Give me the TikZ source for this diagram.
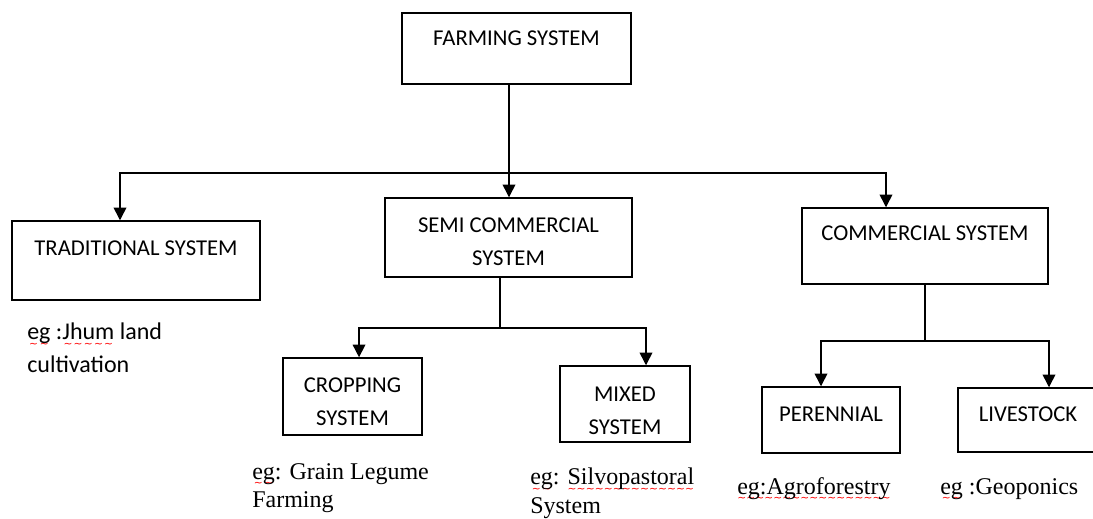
\documentclass[tikz,border=0pt]{standalone}
\usepackage{fontspec}
\setmainfont{Liberation Serif}
\newfontfamily\calibfont{Carlito}
\newfontfamily\wavefont{DejaVu Sans}
\usetikzlibrary{calc,arrows.meta}

% red spell-check squiggle under a word
\newsavebox\spellbox
\newcommand\spellw[1]{\sbox\spellbox{#1}\rlap{\raisebox{-5.5pt}[0pt][0pt]{\hbox to \wd\spellbox{\color{red}\wavefont\fontsize{8}{8}\selectfont\xleaders\hbox{\char"223C}\hfill}}}\usebox\spellbox}

\tikzset{
  sysbox/.style={draw, line width=1.1pt, inner sep=0pt},
  systxt/.style={anchor=north, inner sep=0pt, align=center, font=\calibfont\fontsize{17}{24.75}\selectfont},
  egsans/.style={anchor=north west, inner sep=0pt, align=left, font=\calibfont\fontsize{18}{24.75}\selectfont},
  egserif/.style={anchor=north west, inner sep=0pt, align=left, font=\fontsize{18}{21.4}\selectfont},
  trunk/.style={line width=1.1pt},
  link/.style={trunk, -{Triangle[length=9.5pt,width=9.5pt]}},
}

\begin{document}
\begin{tikzpicture}[x=0.75pt,y=0.75pt,yscale=-1,xscale=1]
\useasboundingbox (0,0) rectangle (1093,518);
\clip (0,0) rectangle (1093,518);

%Boxes
\node[sysbox, minimum width=171.75pt, minimum height=53.25pt] (farm) at (516.5,48.5) {};
\node[sysbox, minimum width=186pt, minimum height=59.25pt] (trad) at (136,260.5) {};
\node[sysbox, minimum width=185.25pt, minimum height=59.25pt] (semi) at (508.5,237.5) {};
\node[sysbox, minimum width=184.5pt, minimum height=57pt] (comm) at (925,246) {};
\node[sysbox, minimum width=104.25pt, minimum height=57.75pt] (crop) at (352.5,396.5) {};
\node[sysbox, minimum width=97.5pt, minimum height=57pt] (mixed) at (625,404) {};
\node[sysbox, minimum width=103.5pt, minimum height=49.5pt] (peren) at (831,420) {};
\node[sysbox, minimum width=105pt, minimum height=48pt] (live) at (1028,420) {};

%Titles
\node[systxt] (farmtxt) at ($(farm.north)+(0,18.5)$) {FARMING SYSTEM};
\node[systxt] (tradtxt) at ($(trad.north)+(0,20)$) {TRADITIONAL SYSTEM};
\node[systxt] (semitxt) at ($(semi.north)+(0,20)$) {SEMI COMMERCIAL\\SYSTEM};
\node[systxt] (commtxt) at ($(comm.north)+(0,18)$) {COMMERCIAL SYSTEM};
\node[systxt] (croptxt) at ($(crop.north)+(0,20)$) {CROPPING\\SYSTEM};
\node[systxt] (mixedtxt) at ($(mixed.north)+(0,21.5)$) {MIXED\\SYSTEM};
\node[systxt] (perentxt) at ($(peren.north)+(0,20.5)$) {PERENNIAL};
\node[systxt] (livetxt) at ($(live.north)+(0,19.5)$) {LIVESTOCK};

%Examples
\node[egsans] (jhum) at (27,323) {\spellw{eg} :\spellw{Jhum} land\\cultivation};
\node[egserif] (grain) at (252,463) {\spellw{eg}: Grain Legume\\Farming};
\node[egserif] (silvo) at (530,468) {\spellw{eg}: \spellw{Silvopastoral}\\System};
\node[egserif] (agro) at (737,477) {\spellw{eg:Agroforestry}};
\node[egserif] (geo) at (940,478) {\spellw{eg} :Geoponics};

%Connectors
\coordinate (s1) at (509,173);
\coordinate (s2) at (500,328);
\coordinate (s3) at (925,341);

\draw[link] (s1 |- farm.south) -- (s1 |- semi.north);
\draw[link] (s1) -| ([xshift=-12pt]trad.north);
\draw[link] (s1) -| ([xshift=-29.25pt]comm.north);

\draw[trunk] (s2 |- semi.south) -- (s2);
\draw[link] (s2) -| ([xshift=4.9pt]crop.north);
\draw[link] (s2) -| ([xshift=15.75pt]mixed.north);

\draw[trunk] (s3 |- comm.south) -- (s3);
\draw[link] (s3) -| ([xshift=-7.5pt]peren.north);
\draw[link] (s3) -| ([xshift=15.75pt]live.north);

\end{tikzpicture}
\end{document}
